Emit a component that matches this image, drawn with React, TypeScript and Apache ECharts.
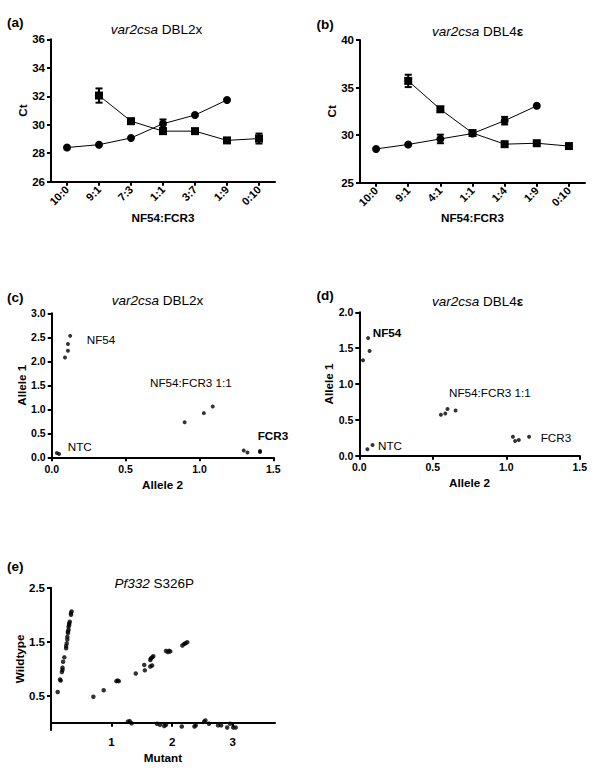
import React, { useEffect, useRef } from 'react';
import * as echarts from 'echarts';

const FONT = '"Liberation Sans", Arial, Helvetica, sans-serif';

// Panel (a): var2csa DBL2x
const catsA = ['10:0', '9:1', '7:3', '1:1', '3:7', '1:9', '0:10'];
const nf54CtA = [28.4, 28.6, 29.07, 30.07, 30.68, 31.74, null];
const nf54ErrA = [0, 0, 0, 0.3, 0, 0, 0];
const fcr3CtA = [null, 32.05, 30.25, 29.55, 29.55, 28.9, 29.03];
const fcr3ErrA = [0, 0.5, 0, 0.15, 0, 0, 0.35];

// Panel (b): var2csa DBL4e
const catsB = ['10:0', '9:1', '4:1', '1:1', '1:4', '1:9', '0:10'];
const nf54CtB = [28.55, 29.02, 29.6, 30.17, 31.52, 33.08, null];
const nf54ErrB = [0, 0, 0.45, 0, 0.4, 0, 0];
const fcr3CtB = [null, 35.7, 32.72, 30.22, 29.05, 29.15, 28.85];
const fcr3ErrB = [0, 0.65, 0, 0, 0, 0, 0];

// Panel (c): allelic discrimination DBL2x  [Allele 2, Allele 1]
const cNF54 = [[0.09, 2.08], [0.11, 2.22], [0.11, 2.36], [0.125, 2.53]];
const cNTC = [[0.035, 0.09], [0.05, 0.07]];
const cMix = [[0.9, 0.73], [1.03, 0.92], [1.09, 1.06]];
const cFCR3 = [[1.3, 0.14], [1.325, 0.1], [1.41, 0.13], [1.41, 0.11]];

// Panel (d): allelic discrimination DBL4e
const dNF54 = [[0.06, 1.64], [0.07, 1.46], [0.025, 1.33]];
const dNTC = [[0.055, 0.09], [0.09, 0.15]];
const dMix = [[0.555, 0.57], [0.585, 0.59], [0.6, 0.65], [0.655, 0.63]];
const dFCR3 = [[1.045, 0.265], [1.06, 0.205], [1.085, 0.22], [1.155, 0.265]];

// Panel (e): Pf332 S326P  [Mutant, Wildtype]
const eWild = [
  [0.11, 0.57], [0.15, 0.8], [0.16, 0.78], [0.18, 0.94], [0.19, 0.98], [0.19, 1.02],
  [0.2, 1.13], [0.22, 1.21], [0.25, 1.38], [0.25, 1.42], [0.26, 1.47], [0.27, 1.54],
  [0.27, 1.59], [0.28, 1.66], [0.28, 1.69], [0.29, 1.72], [0.29, 1.78], [0.3, 1.81],
  [0.3, 1.84], [0.31, 1.87], [0.33, 2.0], [0.33, 2.03], [0.34, 2.06],
];
const eHet = [
  [0.7, 0.48], [0.87, 0.6], [1.08, 0.77], [1.1, 0.78], [1.12, 0.77], [1.4, 0.91],
  [1.55, 0.97], [1.54, 1.07], [1.64, 1.04], [1.67, 1.06], [1.64, 1.16], [1.65, 1.19],
  [1.67, 1.21], [1.69, 1.23], [1.9, 1.33], [1.93, 1.31], [1.95, 1.33], [1.97, 1.32],
  [2.17, 1.43], [2.2, 1.46], [2.22, 1.47], [2.25, 1.49],
];
const eMut = [
  [1.27, 0.02], [1.3, 0.03], [1.33, -0.01], [1.75, -0.02], [1.8, -0.04], [1.87, -0.06],
  [1.9, -0.04], [2.16, -0.07], [2.37, -0.07], [2.39, -0.05], [2.53, 0.02], [2.55, 0.04],
  [2.61, -0.02], [2.76, -0.05], [2.81, -0.05], [2.91, -0.09], [2.96, -0.02], [3.01, -0.09],
  [3.05, -0.09],
];

const eYTicks = [0.5, 1.5, 2.5];
const eXTicks = [1, 2, 3];

const BLACK = '#000';

const axisLineStyle = { show: true, lineStyle: { color: BLACK, width: 2 } };
const axisTickStyle = { show: true, length: 4, lineStyle: { color: BLACK, width: 2 } };
const labelStyle = { color: BLACK, fontFamily: FONT, fontWeight: 'bold', fontSize: 10.5 };
const nameStyle = { color: BLACK, fontFamily: FONT, fontWeight: 'bold', fontSize: 11.7 };

function errData(vals: (number | null)[], errs: number[]) {
  const out: number[][] = [];
  vals.forEach((v, i) => {
    if (v != null && errs[i] > 0) out.push([i, v - errs[i], v + errs[i]]);
  });
  return out;
}

const errRender = (_params: any, api: any) => {
  const x = api.value(0);
  const p1 = api.coord([x, api.value(1)]);
  const p2 = api.coord([x, api.value(2)]);
  const w = 3.5;
  const style = { stroke: BLACK, lineWidth: 2, fill: 'none' };
  return {
    type: 'group',
    children: [
      { type: 'line', shape: { x1: p1[0], y1: p1[1], x2: p2[0], y2: p2[1] }, style },
      { type: 'line', shape: { x1: p1[0] - w, y1: p1[1], x2: p1[0] + w, y2: p1[1] }, style },
      { type: 'line', shape: { x1: p2[0] - w, y1: p2[1], x2: p2[0] + w, y2: p2[1] }, style },
    ],
  };
};

function catX(idx: number, data: string[], nameGap: number) {
  return {
    type: 'category', gridIndex: idx, data, boundaryGap: true,
    axisLine: axisLineStyle,
    axisTick: { ...axisTickStyle, alignWithLabel: true },
    axisLabel: { ...labelStyle, fontSize: 11, rotate: 45, interval: 0, margin: 6 },
    splitLine: { show: false },
    name: 'NF54:FCR3', nameLocation: 'middle', nameGap, nameTextStyle: nameStyle,
  };
}

function valAxis(idx: number, min: number, max: number, interval: number, name: string, nameGap: number, fixed = 0, extra: any = {}) {
  return {
    type: 'value', gridIndex: idx, min, max, interval,
    axisLine: axisLineStyle,
    axisTick: { ...axisTickStyle, ...(extra.tick || {}) },
    axisLabel: {
      ...labelStyle, margin: 6,
      formatter: (v: number) => (fixed ? v.toFixed(fixed) : String(v)),
      ...(extra.label || {}),
    },
    splitLine: { show: false },
    name, nameLocation: 'middle', nameGap, nameTextStyle: nameStyle,
  };
}

function lineSeries(idx: number, data: (number | null)[], symbol: string) {
  return {
    type: 'line', xAxisIndex: idx, yAxisIndex: idx, data, symbol, symbolSize: 8,
    lineStyle: { color: BLACK, width: 1 }, itemStyle: { color: BLACK },
    connectNulls: false, z: 3,
  };
}

function errSeries(idx: number, data: number[][]) {
  return {
    type: 'custom', xAxisIndex: idx, yAxisIndex: idx, data, renderItem: errRender,
    encode: { x: 0, y: [1, 2] }, clip: false, z: 4,
  };
}

function dots(idx: number, data: number[][], size = 4) {
  return {
    type: 'scatter', xAxisIndex: idx, yAxisIndex: idx, data, symbol: 'circle',
    symbolSize: size, itemStyle: { color: BLACK },
  };
}

function txt(text: string, x: number, y: number, opts: any = {}) {
  return {
    type: 'text', x, y, silent: true,
    style: {
      text, fill: BLACK, fontFamily: FONT, fontSize: opts.fontSize || 11.7,
      fontWeight: opts.bold ? 'bold' : 'normal',
      align: opts.align || 'left', verticalAlign: 'middle',
      rich: opts.rich,
    },
  };
}

const titleRich = {
  i: { fontStyle: 'italic', fontFamily: FONT, fontSize: 13.5, fill: BLACK, color: BLACK },
  n: { fontFamily: FONT, fontSize: 13.5, fill: BLACK, color: BLACK },
  b: { fontFamily: FONT, fontSize: 13.5, fontWeight: 'bold', fill: BLACK, color: BLACK },
};

function title(text: string, x: number, y: number) {
  return txt(text, x, y, { align: 'center', fontSize: 13.5, rich: titleRich });
}

const bigLabel = { label: { fontSize: 11.5 } };

const option: any = {
  animation: false,
  backgroundColor: '#fff',
  grid: [
    { left: 51, top: 39.3, width: 224, height: 142.4 },
    { left: 360, top: 40, width: 225, height: 142.7 },
    { left: 51.7, top: 313.3, width: 221.6, height: 144 },
    { left: 359.3, top: 312.3, width: 220.5, height: 143.4 },
    { left: 51, top: 587.7, width: 224, height: 142.3 },
  ],
  xAxis: [
    catX(0, catsA, 30),
    catX(1, catsB, 29),
    valAxis(2, 0, 1.5, 0.5, 'Allele 2', 21, 1),
    valAxis(3, 0, 1.5, 0.5, 'Allele 2', 21, 1),
    valAxis(4, 0, 3.7, 1, 'Mutant', 21, 0, {
      tick: { customValues: eXTicks },
      label: { customValues: eXTicks, fontSize: 11.5 },
    }),
  ],
  yAxis: [
    valAxis(0, 26, 36, 2, 'Ct', 23, 0, bigLabel),
    valAxis(1, 25, 40, 5, 'Ct', 14, 0, bigLabel),
    valAxis(2, 0, 3, 0.5, 'Allele 1', 24, 1),
    valAxis(3, 0, 2, 0.5, 'Allele 1', 20, 1),
    valAxis(4, -0.135, 2.5, 1, 'Wildtype', 26, 0, {
      tick: { customValues: eYTicks },
      label: { customValues: eYTicks, fontSize: 11.5 },
    }),
  ],
  series: [
    lineSeries(0, nf54CtA, 'circle'),
    lineSeries(0, fcr3CtA, 'rect'),
    errSeries(0, errData(nf54CtA, nf54ErrA)),
    errSeries(0, errData(fcr3CtA, fcr3ErrA)),
    lineSeries(1, nf54CtB, 'circle'),
    lineSeries(1, fcr3CtB, 'rect'),
    errSeries(1, errData(nf54CtB, nf54ErrB)),
    errSeries(1, errData(fcr3CtB, fcr3ErrB)),
    dots(2, cNF54), dots(2, cNTC), dots(2, cMix), dots(2, cFCR3),
    dots(3, dNF54), dots(3, dNTC), dots(3, dMix), dots(3, dFCR3),
    dots(4, eWild, 4.5), dots(4, eHet, 4.5), dots(4, eMut, 4.5),
  ],
  graphic: [
    txt('(a)', 7, 22.5, { bold: true, fontSize: 13.5 }),
    txt('(b)', 316.5, 24, { bold: true, fontSize: 13.5 }),
    txt('(c)', 7, 297.5, { bold: true, fontSize: 13.5 }),
    txt('(d)', 316.5, 295, { bold: true, fontSize: 13.5 }),
    txt('(e)', 7, 566, { bold: true, fontSize: 13.5 }),
    title('{i|var2csa}{n| DBL2x}', 156.5, 29),
    title('{i|var2csa}{n| DBL4}{b|ε}', 477.5, 31),
    title('{i|var2csa}{n| DBL2x}', 157.5, 300.5),
    title('{i|var2csa}{n| DBL4}{b|ε}', 477.5, 301),
    title('{i|Pf332}{n| S326P}', 154.2, 583),
    txt('NF54', 86.7, 339),
    txt('NF54:FCR3 1:1', 150, 382),
    txt('NTC', 67.7, 446),
    txt('FCR3', 257.7, 435, { bold: true }),
    txt('NF54', 372.7, 332, { bold: true }),
    txt('NF54:FCR3 1:1', 449, 392),
    txt('NTC', 378, 445),
    txt('FCR3', 540.7, 437.3),
  ],
};

export default function App() {
  const ref = useRef<HTMLDivElement>(null);
  useEffect(() => {
    if (!ref.current) return;
    const chart = echarts.init(ref.current, null, { renderer: 'svg', width: 600, height: 775 });
    chart.setOption(option);
    return () => chart.dispose();
  }, []);
  return (
    <div
      ref={ref}
      style={{ position: 'absolute', left: 0, top: 0, width: 600, height: 775, background: '#fff' }}
    />
  );
}
